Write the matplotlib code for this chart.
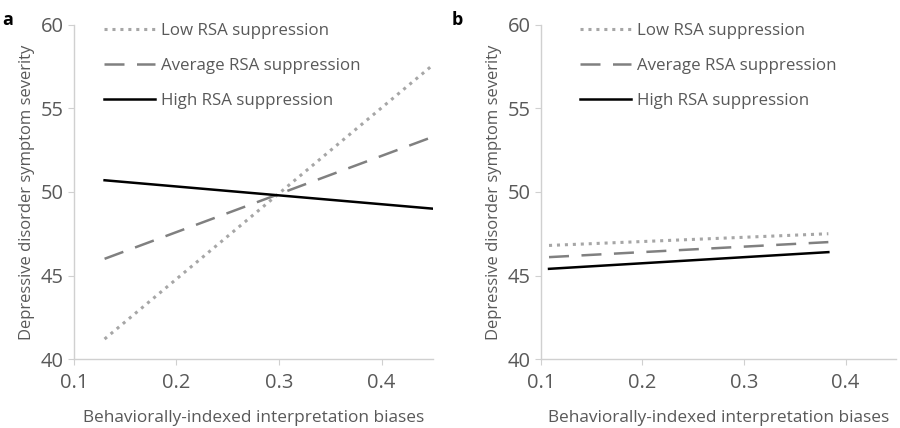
import matplotlib.pyplot as plt

# x positions of the simple slopes (start, end) for each panel
x_a = [0.13, 0.45]
x_b = [0.108, 0.383]

# panel a values
low_a = [41.2, 57.6]
avg_a = [46.0, 53.3]
high_a = [50.7, 49.0]

# panel b values
low_b = [46.8, 47.5]
avg_b = [46.1, 47.0]
high_b = [45.4, 46.4]

labels = ['Low RSA suppression', 'Average RSA suppression', 'High RSA suppression']
xticks = [0.1, 0.2, 0.3, 0.4]
yticks = [40, 45, 50, 55, 60]

plt.rcParams['font.family'] = ['Open Sans', 'DejaVu Sans']
text_col = '#595959'
axis_col = '#d0d0d0'


def draw_panel(ax, x, low, avg, high, leg_x):
    ax.plot(x, low, color='#a6a6a6', lw=2.2, linestyle=(0, (1, 1.6)), label=labels[0])
    ax.plot(x, avg, color='#808080', lw=1.8, linestyle=(0, (8, 5)), label=labels[1])
    ax.plot(x, high, color='#000000', lw=1.8, label=labels[2])
    ax.set_xlim(0.1, 0.45)
    ax.set_ylim(40, 60)
    ax.set_xticks(xticks)
    ax.set_yticks(yticks)
    ax.set_xticklabels([f'{t:.1f}' for t in xticks])
    for s in ['top', 'right']:
        ax.spines[s].set_visible(False)
    for s in ['left', 'bottom']:
        ax.spines[s].set_color(axis_col)
        ax.spines[s].set_linewidth(1.0)
    ax.tick_params(colors=text_col, labelsize=14.5, length=4, color=axis_col)
    ax.tick_params(axis='x', pad=6)
    ax.set_xlabel('Behaviorally-indexed interpretation biases', color=text_col,
                  fontsize=12.4, labelpad=12)
    ax.set_ylabel('Depressive disorder symptom severity', color=text_col, fontsize=12,
                  labelpad=4)
    leg = ax.legend(loc='upper left', frameon=False, fontsize=12.2, handlelength=3.0,
                    labelspacing=1.12, bbox_to_anchor=(leg_x, 1.025), handletextpad=0.35,
                    borderaxespad=0.0)
    for t in leg.get_texts():
        t.set_color(text_col)


fig = plt.figure(figsize=(9, 4.28), dpi=100)
ax1 = fig.add_axes([0.082, 0.161, 0.399, 0.781])
ax2 = fig.add_axes([0.601, 0.161, 0.395, 0.781])

draw_panel(ax1, x_a, low_a, avg_a, high_a, 0.065)
draw_panel(ax2, x_b, low_b, avg_b, high_b, 0.092)

fig.text(0.003, 0.975, 'a', fontsize=13, fontweight='bold', va='top')
fig.text(0.502, 0.975, 'b', fontsize=13, fontweight='bold', va='top')

fig.savefig('out.png', dpi=100)
